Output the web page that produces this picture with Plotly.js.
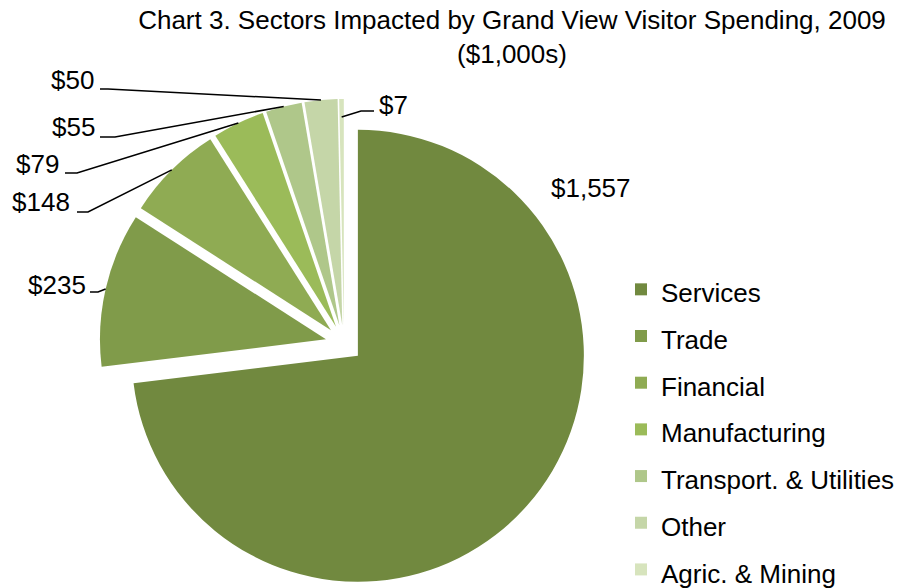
<!DOCTYPE html>
<html>
<head>
<meta charset="utf-8">
<script src="https://cdn.plot.ly/plotly-3.0.1.min.js"></script>
<style>html,body{margin:0;padding:0;background:#fff;}#chart{width:901px;height:588px;}</style>
</head>
<body>
<div id="chart"></div>
<script>
// ---- data ----
const sectors = ['Services', 'Trade', 'Financial', 'Manufacturing', 'Transport. & Utilities', 'Other', 'Agric. & Mining'];
const spending = [1557, 235, 148, 79, 55, 50, 7];
const valueLabels = ['$1,557', '$235', '$148', '$79', '$55', '$50', '$7'];
const titleText = 'Chart 3. Sectors Impacted by Grand View Visitor Spending, 2009<br>($1,000s)';

// ---- styles / layout ----
const sliceColors = ['#71893F', '#809B4A', '#8FAB53', '#9BBB59', '#AFC78A', '#C5D6A8', '#D7E4BD'];
const W = 901, H = 588;
const CX = 344, CY = 343.5, R = 226, PULL = 0.082;
const FONT = 'Liberation Sans, Arial, sans-serif';

// label text centres (px) and leader-line start/elbow (px)
const labelPos = [[591, 188], [57, 285], [41, 202], [37, 164], [73, 127], [72, 80], [393, 105]];
const leaderPts = [null, [[90, 292], [98, 292]], [[77, 212], [88, 212]], [[65, 173], [77, 173]],
                   [[100, 137], [115, 137]], [[100, 89], [108, 89]], [[374, 111], [361, 111]]];
const anchorFrac = [1, 1, 1, 1, 1, 1, 0.92];

const px = x => x / W;
const py = y => 1 - y / H;

const half = R * (1 + PULL);
const domain = {
  x: [px(CX - half), px(CX + half)],
  y: [Math.max(0, py(CY + half)), py(CY - half)]
};

// geometry derived from the values (clockwise from 12 o'clock)
const total = spending.reduce((a, b) => a + b, 0);
let cum = 0;
const annotations = [];
const shapes = [];
spending.forEach((v, i) => {
  const mid = (cum + v / 2) / total * 2 * Math.PI;
  cum += v;
  const sx = Math.sin(mid), sy = -Math.cos(mid);
  const cornerX = CX + PULL * R * sx, cornerY = CY + PULL * R * sy;
  const ex = cornerX + R * anchorFrac[i] * sx, ey = cornerY + R * anchorFrac[i] * sy;
  annotations.push({
    x: px(labelPos[i][0]), y: py(labelPos[i][1]), xref: 'paper', yref: 'paper',
    text: valueLabels[i], showarrow: false, xanchor: 'center', yanchor: 'middle',
    font: {family: FONT, size: 26, color: '#000'}
  });
  if (leaderPts[i]) {
    const [s, e] = leaderPts[i];
    shapes.push({
      type: 'path', xref: 'paper', yref: 'paper',
      path: `M${px(s[0])},${py(s[1])} L${px(e[0])},${py(e[1])} L${px(ex)},${py(ey)}`,
      line: {color: '#000', width: 1.5}
    });
  }
});

const trace = {
  type: 'pie',
  labels: sectors.map(s => `<span style="font-size:26px">${s}</span>`),
  values: spending,
  sort: false,
  direction: 'clockwise',
  rotation: 0,
  pull: spending.map(() => PULL),
  marker: {colors: sliceColors, line: {width: 0}},
  textinfo: 'none',
  hoverinfo: 'label+value',
  domain: domain
};

const layout = {
  width: W, height: H,
  margin: {l: 0, r: 0, t: 0, b: 0, pad: 0, autoexpand: false},
  paper_bgcolor: '#fff',
  plot_bgcolor: '#fff',
  font: {family: FONT, color: '#000'},
  title: {
    text: titleText,
    x: 512 / W, xanchor: 'center', xref: 'paper',
    y: 1 - 29 / H, yanchor: 'top', yref: 'container',
    font: {family: FONT, size: 26, color: '#000'}
  },
  showlegend: true,
  legend: {
    x: 621 / W, xanchor: 'left',
    y: py(261), yanchor: 'top',
    font: {family: FONT, size: 33.6, color: '#000'},
    bgcolor: 'rgba(0,0,0,0)',
    borderwidth: 0
  },
  annotations: annotations,
  shapes: shapes
};

Plotly.newPlot('chart', [trace], layout, {displayModeBar: false, staticPlot: true});
</script>
</body>
</html>
